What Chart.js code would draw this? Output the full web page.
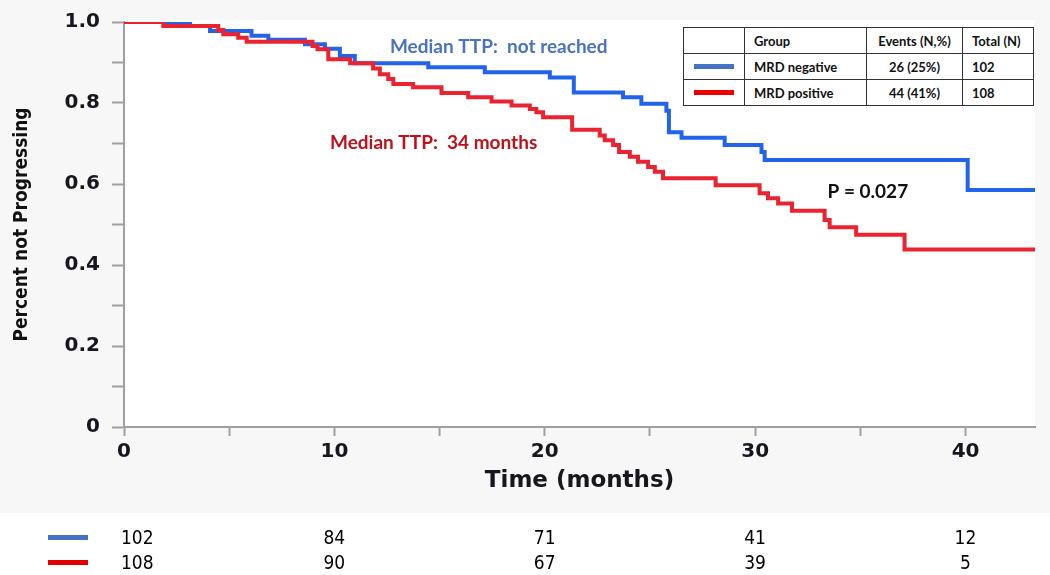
<!DOCTYPE html>
<html>
<head>
<meta charset="utf-8">
<script src="https://cdn.jsdelivr.net/npm/chart.js@4.4.1/dist/chart.umd.min.js"></script>
<style>
html,body{margin:0;padding:0;background:#f7f7f7;}
#wrap{position:relative;width:1050px;height:575px;overflow:hidden;background:#f7f7f7;}
#bottom{position:absolute;left:0;top:513px;width:1050px;height:62px;background:#fff;}
#c{position:absolute;left:0;top:0;}
#legend{position:absolute;left:683px;top:27px;border-collapse:collapse;table-layout:fixed;width:350px;background:#fff;font:bold 13px Lato,"Open Sans",sans-serif;color:#111;}
#legend td{border:1px solid #333;height:25px;padding:0 0 0 9px;white-space:nowrap;}
#legend td.c{text-align:center;padding:0;}
#legend .sw{display:block;width:40px;height:5px;margin:0 auto;}
.mk{position:absolute;left:48px;width:40px;height:5px;}
.risk{position:absolute;font:19px "Liberation Sans Narrow","DejaVu Sans Condensed",sans-serif;color:#000;transform:translateY(-50%);white-space:nowrap;}
</style>
</head>
<body>
<div id="wrap">
  <div id="bottom"></div>
  <canvas id="c" width="1050" height="575"></canvas>
  <table id="legend">
    <colgroup><col style="width:61px"><col style="width:122px"><col style="width:96px"><col style="width:71px"></colgroup>
    <tr><td></td><td>Group</td><td class="c">Events (N,%)</td><td>Total (N)</td></tr>
    <tr><td class="c"><span class="sw" style="background:#4472c4"></span></td><td>MRD negative</td><td class="c">26 (25%)</td><td>102</td></tr>
    <tr><td class="c"><span class="sw" style="background:#ee0000"></span></td><td>MRD positive</td><td class="c">44 (41%)</td><td>108</td></tr>
  </table>
  <div class="mk" style="top:535px;background:#4472c4"></div>
  <div class="mk" style="top:560px;background:#e00000"></div>
  <div id="riskLayer"></div>
</div>
<script>
// ---- data ----
const blueTimes = [0,3.14,4.09,6.06,6.86,8.6,9.55,10.26,10.97,14.46,17.15,20.24,21.38,23.72,24.59,25.78,25.9,26.5,28.55,30.3,30.45,40.1,43.3];
const blueSurv  = [1,0.990,0.978,0.966,0.956,0.945,0.934,0.916,0.898,0.888,0.876,0.863,0.826,0.814,0.798,0.781,0.728,0.714,0.696,0.679,0.659,0.585,0.585];
const redTimes  = [0,1.87,4.48,4.72,5.43,5.83,8.96,9.2,9.71,10.75,11.84,12.16,12.56,12.8,13.74,15.09,16.36,17.47,18.42,19.29,19.6,19.92,21.3,22.61,22.85,23.25,23.53,24.04,24.43,24.91,25.23,25.62,28.12,30.21,30.61,31.09,31.75,33.3,33.54,34.8,37.1,43.3];
const redSurv   = [1,0.990,0.980,0.970,0.961,0.951,0.941,0.933,0.908,0.898,0.885,0.871,0.859,0.847,0.839,0.825,0.814,0.804,0.794,0.785,0.777,0.765,0.734,0.720,0.708,0.696,0.679,0.667,0.655,0.642,0.630,0.614,0.597,0.577,0.565,0.552,0.534,0.511,0.493,0.475,0.438,0.438];
const riskTimes = [0,10,20,30,40];
const blueRisk  = [102,84,71,41,12];
const redRisk   = [108,90,67,39,5];
const xMax = 43.3;

// ---- annotation layout (not data) ----
const notes = [
  {text:'Median TTP:  not reached', x:12.64, y:0.939, color:'#4a72c2'},
  {text:'Median TTP:  34 months',   x:9.79,  y:0.701, color:'#c0101a'},
  {text:'P = 0.027',                x:33.44, y:0.581, color:'#111111'}
];

const toPts = (ts, vs) => ts.map((t,i)=>({x:t,y:vs[i]}));

const bgPlugin = {
  id:'bg',
  beforeDraw(chart){
    const {ctx, chartArea:a} = chart;
    ctx.save();
    ctx.fillStyle = '#ffffff';
    ctx.fillRect(a.left, a.top-2, a.right-a.left, a.bottom-a.top+2);
    ctx.restore();
  }
};
const notePlugin = {
  id:'notes',
  afterDatasetsDraw(chart){
    const {ctx, scales:{x,y}} = chart;
    ctx.save();
    ctx.font = 'bold 19px Lato, "Open Sans", sans-serif';
    ctx.textBaseline = 'middle';
    ctx.textAlign = 'left';
    notes.forEach(n=>{
      ctx.fillStyle = n.color;
      ctx.fillText(n.text, x.getPixelForValue(n.x), y.getPixelForValue(n.y));
    });
    ctx.restore();
  }
};

const tickFont = {family:'"DejaVu Sans", Verdana, sans-serif', weight:'bold', size:20, lineHeight:1};
const axisCol = '#a0a0a0';
const labelCol = '#16161f';

const chart = new Chart(document.getElementById('c'), {
  type:'scatter',
  data:{datasets:[
    {label:'MRD positive', data:toPts(redTimes, redSurv), showLine:true, stepped:true, borderColor:'#ea2330', borderWidth:4, pointRadius:0, fill:false, order:0},
    {label:'MRD negative', data:toPts(blueTimes, blueSurv), showLine:true, stepped:true, borderColor:'#2263ec', borderWidth:4, pointRadius:0, fill:false, order:1}
  ]},
  options:{
    responsive:false, animation:false, events:[],
    layout:{padding:{left:0, top:19, right:15, bottom:62}},
    plugins:{legend:{display:false}, tooltip:{enabled:false}},
    scales:{
      x:{
        type:'linear', min:0, max:xMax,
        afterFit:s=>{s.height = 86;},
        ticks:{stepSize:5, includeBounds:false, autoSkip:false, maxRotation:0, padding:6, color:labelCol, font:tickFont,
               callback:v=> (Math.round(v)%10===0 ? String(Math.round(v)) : '')},
        grid:{drawOnChartArea:false, drawTicks:true, tickLength:9, color:axisCol, tickWidth:2},
        border:{display:true, color:axisCol, width:2},
        title:{display:true, text:'Time (months)', color:labelCol, font:{family:'"DejaVu Sans", Verdana, sans-serif', weight:'bold', size:23}, padding:{top:0, bottom:18}}
      },
      y:{
        min:0, max:1,
        afterFit:s=>{s.width = 124;},
        ticks:{stepSize:0.1, includeBounds:false, autoSkip:false, padding:12, color:labelCol, font:tickFont,
               callback:v=>{const k=Math.round(v*10); if(k%2) return ''; return k===0 ? '0' : (k/10).toFixed(1);}},
        grid:{drawOnChartArea:false, drawTicks:true, tickLength:12, color:axisCol, tickWidth:2},
        border:{display:true, color:axisCol, width:2},
        title:{display:true, text:'Percent not Progressing', color:'#111', font:{family:'"DejaVu Sans Condensed","Liberation Sans Narrow",sans-serif', weight:'bold', size:19}, padding:{top:11, bottom:0}}
      }
    }
  },
  plugins:[bgPlugin, notePlugin]
});

// ---- number-at-risk rows, aligned with the x scale ----
const layer = document.getElementById('riskLayer');
const xs = chart.scales.x;
[[blueRisk, 537],[redRisk, 562]].forEach(([vals, top])=>{
  riskTimes.forEach((t,i)=>{
    const d = document.createElement('div');
    d.className = 'risk';
    d.textContent = vals[i];
    layer.appendChild(d);
    const px = xs.getPixelForValue(t);
    const w = d.offsetWidth;
    d.style.left = (i===0 ? px - 3 : px - w/2) + 'px';
    d.style.top = top + 'px';
  });
});
</script>
</body>
</html>
